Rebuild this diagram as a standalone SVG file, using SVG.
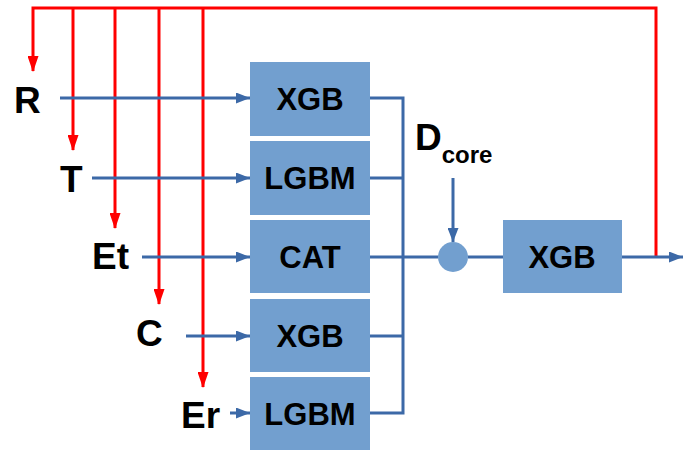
<svg xmlns="http://www.w3.org/2000/svg" width="683" height="450" viewBox="0 0 683 450">
<defs>
<style>
.box{fill:#729fcf;stroke:none}
.bt{font-family:"Liberation Sans",Arial,sans-serif;font-weight:bold;font-size:31px;fill:#000;text-anchor:middle}
.lab{font-family:"Liberation Sans",Arial,sans-serif;font-weight:bold;font-size:37px;fill:#000}
.red{stroke:#ff0000;stroke-width:3;fill:none}
.blue{stroke:#3c69a7;stroke-width:3;fill:none}
</style>
<marker id="arr" markerWidth="16" markerHeight="11" refX="15" refY="5.5" orient="auto" markerUnits="userSpaceOnUse"><path d="M0,0 L16,5.5 L0,11 Z" fill="#ff0000"/></marker>
<marker id="ab" markerWidth="14" markerHeight="11" refX="14" refY="5.5" orient="auto" markerUnits="userSpaceOnUse"><path d="M0,0 L14,5.5 L0,11 Z" fill="#3c69a7"/></marker>
</defs>
<g id="connectors">
<path class="red" d="M656,257 V8 H33 V71" marker-end="url(#arr)"/>
<path class="red" d="M73,8 V150" marker-end="url(#arr)"/>
<path class="red" d="M115,8 V228" marker-end="url(#arr)"/>
<path class="red" d="M159,8 V304" marker-end="url(#arr)"/>
<path class="red" d="M203,8 V387" marker-end="url(#arr)"/>
<path class="blue" d="M60,98 H250" marker-end="url(#ab)"/>
<path class="blue" d="M92,178 H250" marker-end="url(#ab)"/>
<path class="blue" d="M142,257 H250" marker-end="url(#ab)"/>
<path class="blue" d="M186,336 H250" marker-end="url(#ab)"/>
<path class="blue" d="M230,413 H250" marker-end="url(#ab)"/>
<path class="blue" d="M370,98 H403 V413 H370"/>
<path class="blue" d="M370,178 H403"/>
<path class="blue" d="M370,336 H403"/>
<path class="blue" d="M370,257 H438"/>
<path class="blue" d="M468,257 H503"/>
<path class="blue" d="M453,178 V242" marker-end="url(#ab)"/>
<path class="blue" d="M622,257 H683" marker-end="url(#ab)"/>
</g>
<g id="labels">
<text class="lab" x="14" y="113">R</text>
<text class="lab" x="60" y="192">T</text>
<text class="lab" x="92" y="269">Et</text>
<text class="lab" x="136" y="346">C</text>
<text class="lab" x="181" y="428">Er</text>
<text class="lab" x="415" y="150">D<tspan font-size="24" dy="13">core</tspan></text>
</g>
<g id="node-xgb1"><rect class="box" x="250" y="62" width="120" height="74"/><text class="bt" x="310" y="110">XGB</text></g>
<g id="node-lgbm1"><rect class="box" x="250" y="141" width="120" height="74"/><text class="bt" x="310" y="189">LGBM</text></g>
<g id="node-cat"><rect class="box" x="250" y="220" width="120" height="73"/><text class="bt" x="310" y="268">CAT</text></g>
<g id="node-xgb2"><rect class="box" x="250" y="299" width="120" height="73"/><text class="bt" x="310" y="347">XGB</text></g>
<g id="node-lgbm2"><rect class="box" x="250" y="377" width="120" height="73"/><text class="bt" x="310" y="425">LGBM</text></g>
<g id="node-sum"><circle cx="453" cy="257" r="15" fill="#729fcf"/></g>
<g id="node-xgb3"><rect class="box" x="503" y="220" width="119" height="73"/><text class="bt" x="562" y="268">XGB</text></g>
</svg>
